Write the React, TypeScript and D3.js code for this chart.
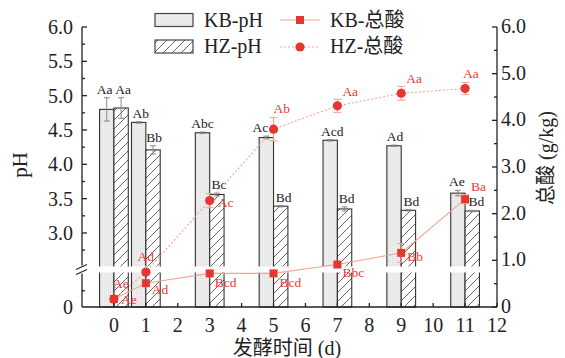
import React from "react";
import * as d3 from "d3";

// Fermentation days sampled
const days = [0, 1, 3, 5, 7, 9, 11];

// pH of the two groups (left axis) with standard deviations
const kbPH = [4.8, 4.61, 4.46, 4.39, 4.35, 4.27, 3.58];
const kbPHErr = [0.17, 0.01, 0.01, 0.02, 0.01, 0.01, 0.04];
const hzPH = [4.82, 4.21, 3.56, 3.39, 3.35, 3.33, 3.32];
const hzPHErr = [0.15, 0.06, 0.02, 0.01, 0.03, 0.01, 0.01];
const kbPHLabels = ["Aa", "Ab", "Abc", "Ac", "Acd", "Ad", "Ae"];
const hzPHLabels = ["Aa", "Bb", "Bc", "Bd", "Bd", "Bd", "Bd"];

// Total acid (g/kg, right axis) with standard deviations
const kbAcid = [0.17, 0.51, 0.72, 0.72, 0.91, 1.16, 2.31];
const kbAcidErr = [0.04, 0.05, 0.06, 0.06, 0.05, 0.2, 0.1];
const hzAcid = [0.17, 0.75, 2.28, 3.81, 4.31, 4.58, 4.68];
const hzAcidErr = [0.03, 0.05, 0.15, 0.25, 0.14, 0.15, 0.13];
const kbAcidLabels = ["Ae", "Ad", "Bcd", "Bcd", "Bbc", "Bb", "Ba"];
const hzAcidLabels = ["Ae", "Ad", "Ac", "Ab", "Aa", "Aa", "Aa"];

// Axis ticks
const xTicks = d3.range(0, 13);
const phTicks = [3.0, 3.5, 4.0, 4.5, 5.0, 5.5, 6.0];
const phMinor = d3.range(2.75, 6.0, 0.5);
const acidTicks = [0, 1, 2, 3, 4, 5, 6];
const acidMinor = d3.range(0.5, 6, 1);

const W = 565;
const H = 358;
const L = 82;
const R = 497;
const TOP = 27;
const BOTTOM = 307;
const BREAK_TOP = 266.5;
const BREAK_BOT = 272.5;

const RED = "#e5362f";
const LABEL_RED = "#ea3b35";
const LINE = "#f3a594";
const SERIF = "'Liberation Serif', 'Times New Roman', 'Noto Sans CJK SC', serif";
const CJK = "'Liberation Serif', 'Noto Sans CJK SC', serif";

// horizontal nudges of the pH letter labels, kept clear of the acid markers
const kbPHNudge = [-2, 2, 0, -6, 2, 1, -1];
const hzPHNudge = [2, 1, 2, 3, 2, 3, 4];

// offsets of the acid letter labels relative to their marker [dx, dy, anchor]
const kbAcidOff: [number, number, string][] = [
  [7, 5, "start"], [6, 11, "start"], [5, 14, "start"], [6, 14, "start"],
  [5, 12, "start"], [6, 8, "start"], [6, -8, "start"],
];
const hzAcidOff: [number, number, string][] = [
  [-1, -11, "start"], [0, -11, "middle"], [8, 6, "start"], [0, -16, "start"],
  [5, -10, "start"], [5, -10, "start"], [-2, -11, "start"],
];

export default function App() {
  const x = d3.scaleLinear().domain([-1, 12]).range([L, R]);
  const yPH = d3.scaleLinear().domain([2.5, 6]).range([BREAK_TOP + 0.8, TOP]);
  const yAcid = d3.scaleLinear().domain([0, 6]).range([BOTTOM, TOP]);
  const bw = x(0.45) - x(0);

  const acidLine = d3
    .line<number>()
    .x((_, i) => x(days[i]))
    .y((d) => yAcid(d));

  const fmt = d3.format(".1f");

  return (
    <svg width={W} height={H} style={{ position: "absolute", left: 0, top: 0, background: "#fff" }}>
      <defs>
        <pattern id="dots" patternUnits="userSpaceOnUse" width="2" height="2">
          <rect width="2" height="2" fill="#eeeeee" />
          <rect width="1" height="1" fill="#dedede" />
        </pattern>
        <pattern id="hatch" patternUnits="userSpaceOnUse" width="9" height="9">
          <rect width="9" height="9" fill="#fff" />
          <path d="M0,9 L9,0 M-2,2 L2,-2 M7,11 L11,7" stroke="#555" strokeWidth="0.9" />
        </pattern>
      </defs>

      {/* pH bars */}
      {days.map((d, i) => (
        <g key={"b" + d}>
          <rect x={x(d) - bw} y={yPH(kbPH[i])} width={bw} height={BOTTOM - yPH(kbPH[i])}
            fill="url(#dots)" stroke="#333" strokeWidth={1.1} />
          <rect x={x(d)} y={yPH(hzPH[i])} width={bw} height={BOTTOM - yPH(hzPH[i])}
            fill="url(#hatch)" stroke="#333" strokeWidth={1.1} />
        </g>
      ))}

      {/* pH error bars */}
      {days.map((d, i) =>
        [
          { cx: x(d) - bw / 2, v: kbPH[i], e: kbPHErr[i] },
          { cx: x(d) + bw / 2, v: hzPH[i], e: hzPHErr[i] },
        ].map((b, j) => (
          <g key={"e" + d + j} stroke="#888" strokeWidth={1}>
            <line x1={b.cx} x2={b.cx} y1={yPH(b.v + b.e)} y2={yPH(b.v - b.e)} />
            <line x1={b.cx - 3} x2={b.cx + 3} y1={yPH(b.v + b.e)} y2={yPH(b.v + b.e)} />
            <line x1={b.cx - 3} x2={b.cx + 3} y1={yPH(b.v - b.e)} y2={yPH(b.v - b.e)} />
          </g>
        ))
      )}

      {/* pH letter labels */}
      {days.map((d, i) => (
        <g key={"pl" + d} fontFamily={SERIF} fontSize={13.5} fill="#222" textAnchor="middle">
          <text x={x(d) - bw / 2 + kbPHNudge[i]} y={yPH(kbPH[i] + kbPHErr[i]) - 4}>{kbPHLabels[i]}</text>
          <text x={x(d) + bw / 2 + hzPHNudge[i]} y={yPH(hzPH[i] + hzPHErr[i]) - 4}>{hzPHLabels[i]}</text>
        </g>
      ))}

      {/* axis break band */}
      <rect x={L + 1} y={BREAK_TOP} width={R - L - 2} height={BREAK_BOT - BREAK_TOP} fill="#fff" />

      {/* total acid lines */}
      <path d={acidLine(kbAcid) || ""} fill="none" stroke={LINE} strokeWidth={1.1} />
      <path d={acidLine(hzAcid) || ""} fill="none" stroke={LINE} strokeWidth={1.1} strokeDasharray="2,2" />

      {/* acid error bars */}
      {days.map((d, i) =>
        [
          { v: kbAcid[i], e: kbAcidErr[i] },
          { v: hzAcid[i], e: hzAcidErr[i] },
        ].map((b, j) => (
          <g key={"ae" + d + j} stroke={LINE} strokeWidth={1}>
            <line x1={x(d)} x2={x(d)} y1={yAcid(b.v + b.e)} y2={yAcid(b.v - b.e)} />
            <line x1={x(d) - 4} x2={x(d) + 4} y1={yAcid(b.v + b.e)} y2={yAcid(b.v + b.e)} />
            <line x1={x(d) - 4} x2={x(d) + 4} y1={yAcid(b.v - b.e)} y2={yAcid(b.v - b.e)} />
          </g>
        ))
      )}

      {/* acid markers */}
      {days.map((d, i) => (
        <g key={"m" + d} fill={RED}>
          <circle cx={x(d)} cy={yAcid(hzAcid[i])} r={4.6} />
          <rect x={x(d) - 4} y={yAcid(kbAcid[i]) - 4} width={8} height={8} />
        </g>
      ))}

      {/* acid letter labels */}
      {days.map((d, i) => (
        <g key={"al" + d} fontFamily={SERIF} fontSize={13.5} fill={LABEL_RED}>
          <text x={x(d) + kbAcidOff[i][0]} y={yAcid(kbAcid[i]) + kbAcidOff[i][1]} textAnchor={kbAcidOff[i][2]}>
            {kbAcidLabels[i]}
          </text>
          <text x={x(d) + hzAcidOff[i][0]} y={yAcid(hzAcid[i]) + hzAcidOff[i][1]} textAnchor={hzAcidOff[i][2]}>
            {hzAcidLabels[i]}
          </text>
        </g>
      ))}

      {/* left axis (broken) */}
      <g stroke="#222" strokeWidth={1.3}>
        <line x1={L} x2={L} y1={TOP} y2={BREAK_TOP - 1} />
        <line x1={L} x2={L} y1={BREAK_BOT + 1} y2={BOTTOM} />
        <line x1={L - 6} x2={L + 5} y1={BREAK_TOP + 3} y2={BREAK_TOP - 2} strokeWidth={1.1} />
        <line x1={L - 6} x2={L + 5} y1={BREAK_BOT + 2} y2={BREAK_BOT - 3} strokeWidth={1.1} />
        {phTicks.map((t) => (
          <line key={"lt" + t} x1={L} x2={L + 5} y1={yPH(t)} y2={yPH(t)} />
        ))}
        {phMinor.map((t) => (
          <line key={"lm" + t} x1={L} x2={L + 3} y1={yPH(t)} y2={yPH(t)} />
        ))}
        <line x1={L} x2={L + 3} y1={(BOTTOM + BREAK_BOT) / 2 + 1} y2={(BOTTOM + BREAK_BOT) / 2 + 1} />
      </g>
      <g fontFamily={SERIF} fontSize={20} fill="#222" textAnchor="end">
        {phTicks.map((t) => (
          <text key={"ll" + t} x={L - 9} y={yPH(t) + 7}>{fmt(t)}</text>
        ))}
        <text x={L - 9} y={BOTTOM + 7}>0</text>
      </g>

      {/* right axis */}
      <g stroke="#222" strokeWidth={1.3}>
        <line x1={R} x2={R} y1={TOP} y2={BOTTOM} />
        {acidTicks.map((t) => (
          <line key={"rt" + t} x1={R - 5} x2={R} y1={yAcid(t)} y2={yAcid(t)} />
        ))}
        {acidMinor.map((t) => (
          <line key={"rm" + t} x1={R - 3} x2={R} y1={yAcid(t)} y2={yAcid(t)} />
        ))}
      </g>
      <g fontFamily={SERIF} fontSize={20} fill="#222" textAnchor="start">
        {acidTicks.map((t) => (
          <text key={"rl" + t} x={R + 4} y={yAcid(t) + 6}>{t === 0 ? "0" : fmt(t)}</text>
        ))}
      </g>

      {/* bottom axis */}
      <g stroke="#222" strokeWidth={1.3}>
        <line x1={L} x2={R} y1={BOTTOM} y2={BOTTOM} />
        {xTicks.map((t) => (
          <line key={"xt" + t} x1={x(t)} x2={x(t)} y1={BOTTOM} y2={BOTTOM - 4} />
        ))}
      </g>
      <g fontFamily={SERIF} fontSize={20} fill="#222" textAnchor="middle">
        {xTicks.map((t) => (
          <text key={"xl" + t} x={x(t)} y={332}>{t}</text>
        ))}
      </g>

      {/* axis titles */}
      <text x={287} y={355} fontFamily={CJK} fontSize={20} fill="#222" textAnchor="middle">发酵时间 (d)</text>
      <text transform="translate(27,165) rotate(-90)" fontFamily={SERIF} fontSize={21} fill="#222" textAnchor="middle">pH</text>
      <text transform="translate(553,158) rotate(-90)" fontFamily={CJK} fontSize={20} fill="#222" textAnchor="middle">总酸 (g/kg)</text>

      {/* legend */}
      <g fontFamily={CJK} fontSize={20} fill="#222">
        <rect x={155} y={13.5} width={38} height={13} fill="url(#dots)" stroke="#444" strokeWidth={1.2} />
        <text x={204} y={27}>KB-pH</text>
        <rect x={155} y={40} width={38} height={13} fill="url(#hatch)" stroke="#444" strokeWidth={1.2} />
        <text x={204} y={53}>HZ-pH</text>
        <line x1={280} x2={320} y1={20} y2={20} stroke={LINE} strokeWidth={1.1} />
        <rect x={296} y={16} width={8} height={8} fill={RED} />
        <text x={330} y={27}>KB-总酸</text>
        <line x1={280} x2={320} y1={47} y2={47} stroke={LINE} strokeWidth={1.1} strokeDasharray="2,2" />
        <circle cx={300} cy={47} r={4.6} fill={RED} />
        <text x={330} y={53}>HZ-总酸</text>
      </g>
    </svg>
  );
}
